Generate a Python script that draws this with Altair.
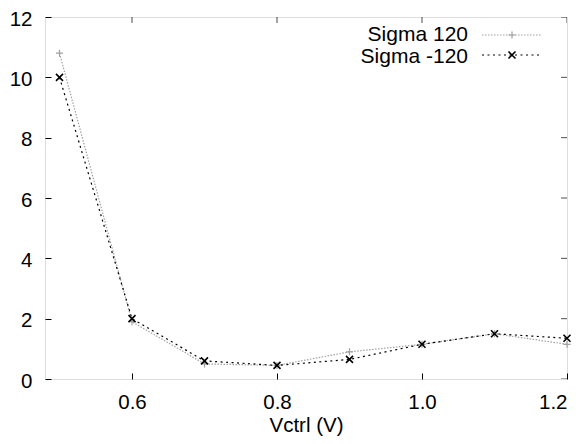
import altair as alt
import pandas as pd

vctrl = [0.5, 0.6, 0.7, 0.8, 0.9, 1.0, 1.1, 1.2]
sigma_pos = [10.8, 1.9, 0.5, 0.45, 0.9, 1.15, 1.5, 1.15]
sigma_neg = [10.0, 2.0, 0.6, 0.45, 0.65, 1.15, 1.5, 1.35]
series_names = ["Sigma 120", "Sigma -120"]
x_ticks = [0.6, 0.8, 1.0, 1.2]
y_ticks = [0, 2, 4, 6, 8, 10, 12]

W, H = 522, 362
FONT = "Liberation Sans"
PLUS = "M-1,0L1,0M0,-1L0,1"
CROSS = "M-1,-1L1,1M-1,1L1,-1"
GREY = "#a0a0a0"
BLACK = "#000000"

df_pos = pd.DataFrame({"v": vctrl, "y": sigma_pos})
df_neg = pd.DataFrame({"v": vctrl, "y": sigma_neg})

xs = alt.Scale(domain=[0.48, 1.2], nice=False, zero=False)
ys = alt.Scale(domain=[0, 12], nice=False, zero=False)

xaxis = alt.Axis(values=x_ticks, format=".1f", tickSize=6, offset=-6, domain=False,
                 grid=False, labelPadding=13, labelFontSize=20.5, labelFont=FONT,
                 labelColor="black", tickColor="black", title="Vctrl (V)",
                 titleFont=FONT, titleFontSize=20.5, titleFontWeight="normal",
                 titleColor="black", titleBaseline="alphabetic", titleY=58)
yaxis = alt.Axis(values=y_ticks, format="d", tickSize=6, offset=-6, domain=False,
                 grid=False, labelPadding=13, labelFontSize=20.5, labelFont=FONT,
                 labelColor="black", tickColor="black", title=None, labelOffset=2)

X = alt.X("v:Q", scale=xs, axis=xaxis)
Y = alt.Y("y:Q", scale=ys, axis=yaxis)


def series(df, color, dash, shape, sw):
    line = alt.Chart(df).mark_line(color=color, strokeDash=dash, strokeWidth=1.2).encode(x=X, y=Y)
    pts = alt.Chart(df).mark_point(shape=shape, size=49, color=color, strokeWidth=sw,
                                   filled=False, opacity=1).encode(x=X, y=Y)
    return line + pts


top_ticks = alt.Chart(pd.DataFrame({"v": x_ticks})).mark_tick(
    color="black", size=12, thickness=1, clip=True).encode(x=X, y=alt.value(0))
right_ticks = alt.Chart(pd.DataFrame({"y": y_ticks})).mark_tick(
    color="black", size=12, thickness=1, clip=True).encode(y=Y, x=alt.value(W))


def legend_row(name, color, dash, shape, sw, ty, ly):
    d = pd.DataFrame({"s": [name]})
    txt = alt.Chart(d).mark_text(align="right", baseline="middle", font=FONT,
                                 fontSize=21, color="black").encode(
        text="s:N", x=alt.value(423), y=alt.value(ty))
    ln = alt.Chart(d).mark_rule(color=color, strokeDash=dash, strokeWidth=1.2).encode(
        x=alt.value(437), x2=alt.value(497), y=alt.value(ly))
    pt = alt.Chart(d).mark_point(shape=shape, size=49, color=color, strokeWidth=sw,
                                 opacity=1).encode(x=alt.value(467), y=alt.value(ly))
    return txt + ln + pt


chart = alt.layer(
    series(df_pos, GREY, [1.5, 1.5], PLUS, 1.2),
    series(df_neg, BLACK, [2, 3.5], CROSS, 1.6),
    top_ticks,
    right_ticks,
    legend_row(series_names[0], GREY, [1.5, 1.5], PLUS, 1.2, 18, 18),
    legend_row(series_names[1], BLACK, [2, 3.5], CROSS, 1.6, 39.5, 38),
).properties(
    width=W, height=H,
    autosize=alt.AutoSizeParams(type="none"),
    padding={"left": 37, "top": 9, "right": 9, "bottom": 57},
).configure_view(stroke="black", strokeWidth=1).configure(background="white")

chart.save("out.html", embed_options={"renderer": "svg", "actions": False})
